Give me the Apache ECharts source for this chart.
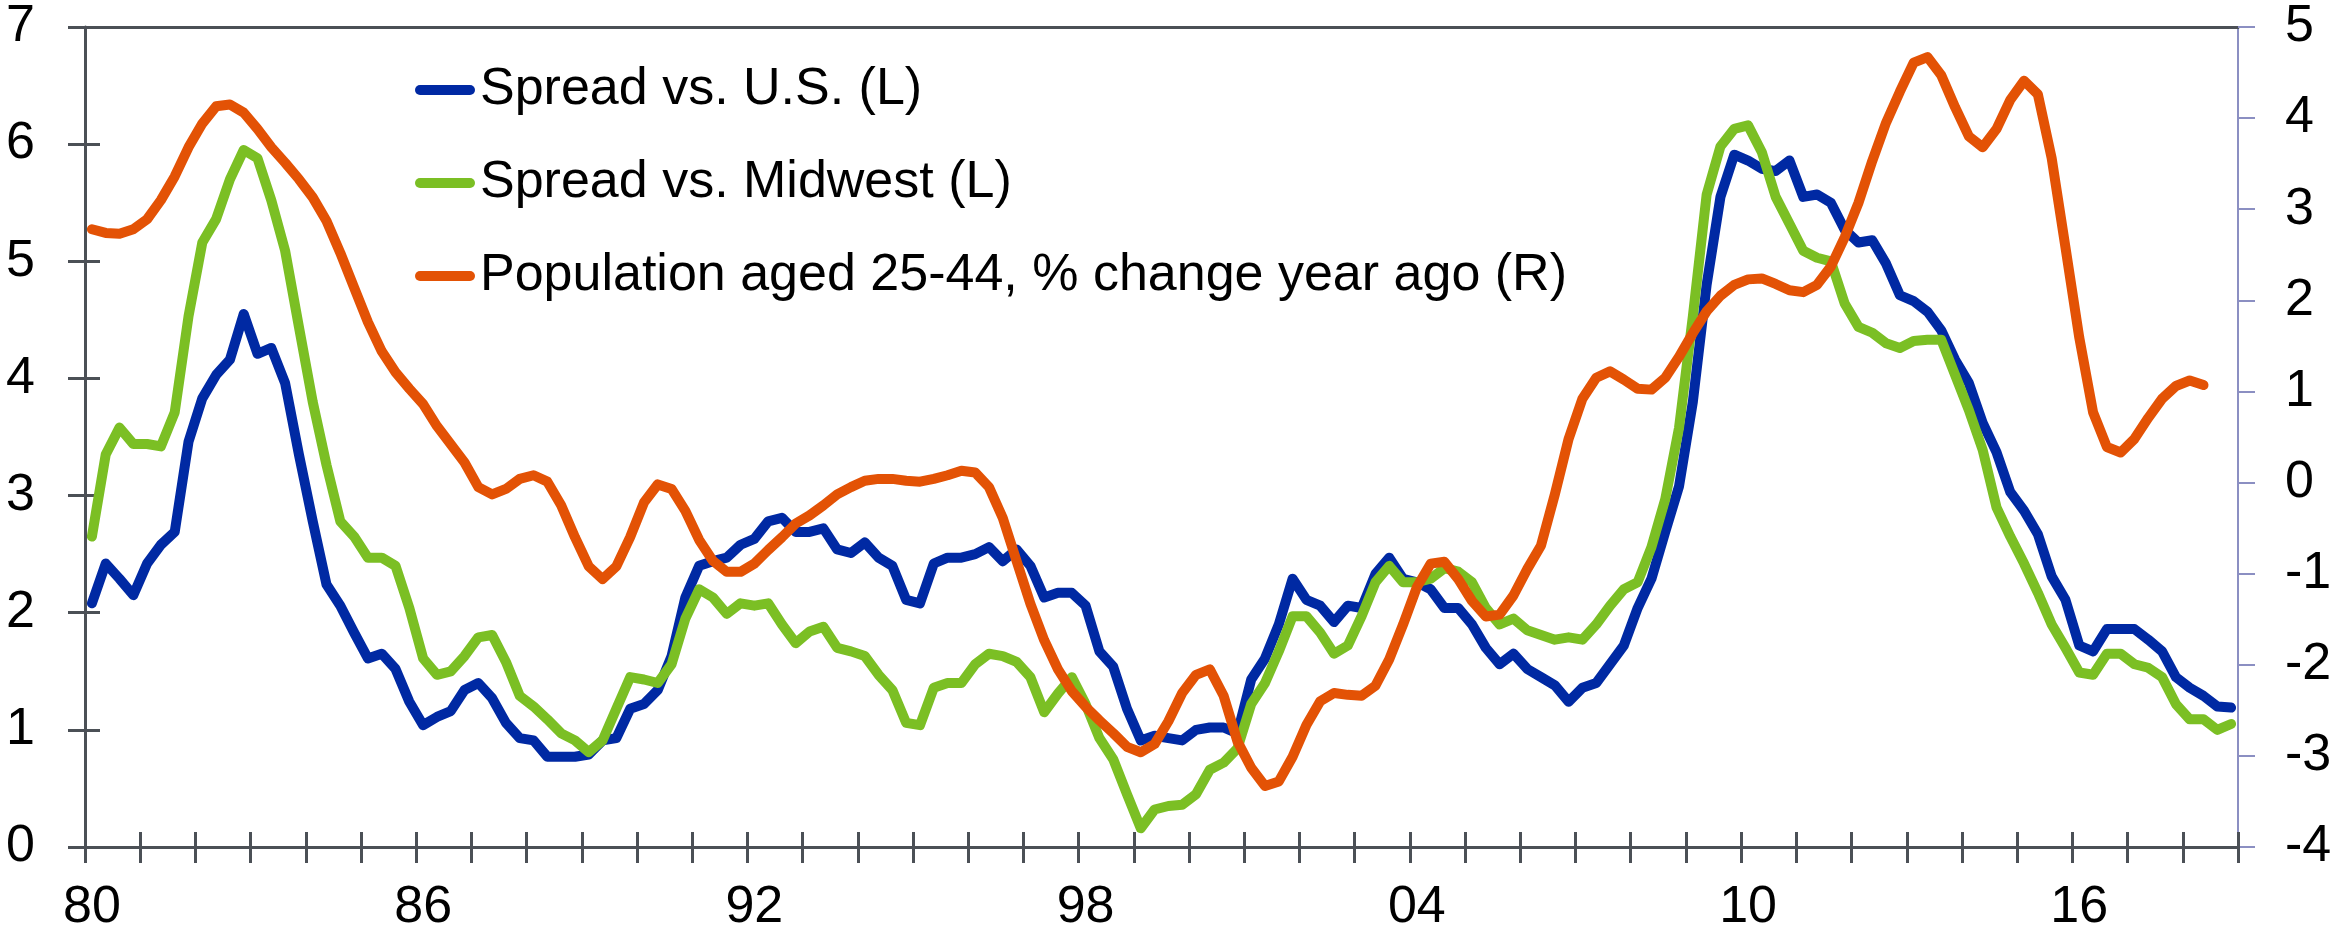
<!DOCTYPE html>
<html>
<head>
<meta charset="utf-8">
<script src="https://cdn.jsdelivr.net/npm/echarts@6.0.0/dist/echarts.min.js"></script>
<style>
  html, body { margin: 0; padding: 0; background: #fff; }
  #chart { width: 2336px; height: 937px; }
</style>
</head>
<body>
<div id="chart"></div>
<script>
// quarterly categories, 1980Q1 .. 2018Q4
var startYear = 1980;
var endYear = 2018;
var quarters = [];
for (var y = startYear; y <= endYear; y++) {
  for (var q = 1; q <= 4; q++) quarters.push(y + 'Q' + q);
}

var seriesNames = [
  'Spread vs. U.S. (L)',
  'Spread vs. Midwest (L)',
  'Population aged 25-44, % change year ago (R)'
];

// Spread vs. U.S., left axis
var spreadUS = [
  2.08, 2.42, 2.29, 2.15, 2.42, 2.58, 2.69, 3.46, 3.83, 4.03, 4.16, 4.55, 4.21, 4.26, 3.96, 3.35,
  2.78, 2.24, 2.06, 1.83, 1.61, 1.65, 1.52, 1.24, 1.04, 1.11, 1.16, 1.34, 1.40, 1.27, 1.06, 0.93,
  0.91, 0.77, 0.77, 0.77, 0.79, 0.91, 0.93, 1.18, 1.22, 1.34, 1.63, 2.13, 2.40, 2.44, 2.47, 2.58,
  2.63, 2.78, 2.81, 2.69, 2.69, 2.72, 2.54, 2.51, 2.60, 2.47, 2.40, 2.11, 2.08, 2.42, 2.47, 2.47,
  2.50, 2.56, 2.44, 2.54, 2.40, 2.13, 2.17, 2.17, 2.06, 1.67, 1.54, 1.18, 0.91, 0.95, 0.93, 0.91,
  1.00, 1.02, 1.02, 0.97, 1.43, 1.61, 1.90, 2.29, 2.11, 2.06, 1.92, 2.06, 2.04, 2.33, 2.47, 2.29,
  2.26, 2.20, 2.04, 2.04, 1.90, 1.70, 1.56, 1.65, 1.52, 1.45, 1.38, 1.24, 1.36, 1.40, 1.56, 1.72,
  2.04, 2.29, 2.69, 3.08, 3.80, 4.80, 5.55, 5.91, 5.86, 5.79, 5.77, 5.86, 5.55, 5.57, 5.50, 5.27,
  5.16, 5.18, 4.98, 4.71, 4.66, 4.57, 4.41, 4.16, 3.96, 3.62, 3.37, 3.03, 2.87, 2.67, 2.31, 2.11,
  1.72, 1.67, 1.86, 1.86, 1.86, 1.77, 1.67, 1.45, 1.36, 1.29, 1.20, 1.19
];

// Spread vs. Midwest, left axis
var spreadMidwest = [
  2.65, 3.35, 3.58, 3.44, 3.44, 3.42, 3.71, 4.53, 5.16, 5.36, 5.70, 5.95, 5.88, 5.52, 5.09, 4.44,
  3.80, 3.26, 2.78, 2.65, 2.47, 2.47, 2.40, 2.04, 1.61, 1.47, 1.50, 1.63, 1.79, 1.81, 1.58, 1.29,
  1.20, 1.09, 0.97, 0.91, 0.81, 0.91, 1.18, 1.45, 1.43, 1.40, 1.56, 1.95, 2.20, 2.13, 1.99, 2.08,
  2.06, 2.08, 1.90, 1.74, 1.84, 1.88, 1.70, 1.67, 1.63, 1.47, 1.34, 1.06, 1.04, 1.36, 1.40, 1.40,
  1.56, 1.65, 1.63, 1.58, 1.45, 1.15, 1.31, 1.45, 1.22, 0.93, 0.75, 0.45, 0.16, 0.32, 0.35, 0.36,
  0.45, 0.66, 0.72, 0.84, 1.22, 1.40, 1.67, 1.97, 1.97, 1.83, 1.65, 1.72, 1.97, 2.26, 2.40, 2.26,
  2.26, 2.29, 2.38, 2.35, 2.26, 2.04, 1.90, 1.95, 1.85, 1.81, 1.77, 1.79, 1.77, 1.90, 2.06, 2.20,
  2.26, 2.56, 2.97, 3.58, 4.53, 5.57, 5.98, 6.13, 6.16, 5.93, 5.55, 5.32, 5.09, 5.03, 5.00, 4.64,
  4.44, 4.39, 4.30, 4.26, 4.32, 4.33, 4.33, 4.03, 3.73, 3.39, 2.90, 2.65, 2.42, 2.17, 1.90, 1.70,
  1.49, 1.47, 1.65, 1.65, 1.56, 1.53, 1.45, 1.22, 1.09, 1.09, 1.00, 1.05
];

// Population aged 25-44, % change year ago, right axis
var population = [
  2.78, 2.74, 2.73, 2.78, 2.89, 3.10, 3.36, 3.68, 3.94, 4.13, 4.15, 4.06, 3.88, 3.68, 3.51, 3.33,
  3.13, 2.87, 2.52, 2.14, 1.76, 1.44, 1.21, 1.03, 0.86, 0.62, 0.42, 0.22, -0.05, -0.13, -0.07, 0.04,
  0.08, 0.01, -0.25, -0.60, -0.92, -1.06, -0.92, -0.60, -0.22, -0.02, -0.07, -0.31, -0.63, -0.86, -0.98, -0.98,
  -0.89, -0.74, -0.60, -0.45, -0.36, -0.25, -0.13, -0.05, 0.02, 0.04, 0.04, 0.02, 0.01, 0.04, 0.08, 0.13,
  0.11, -0.05, -0.39, -0.86, -1.33, -1.73, -2.05, -2.29, -2.46, -2.61, -2.75, -2.90, -2.96, -2.87, -2.62, -2.31,
  -2.11, -2.05, -2.34, -2.84, -3.13, -3.33, -3.28, -3.01, -2.66, -2.40, -2.31, -2.33, -2.34, -2.23, -1.94, -1.56,
  -1.15, -0.89, -0.87, -1.06, -1.30, -1.47, -1.45, -1.24, -0.95, -0.69, -0.13, 0.48, 0.92, 1.15, 1.22, 1.13,
  1.03, 1.02, 1.15, 1.38, 1.64, 1.88, 2.05, 2.17, 2.23, 2.24, 2.18, 2.11, 2.09, 2.17, 2.37, 2.69,
  3.07, 3.53, 3.95, 4.29, 4.61, 4.67, 4.47, 4.12, 3.80, 3.68, 3.88, 4.20, 4.41, 4.26, 3.56, 2.58,
  1.59, 0.77, 0.39, 0.33, 0.48, 0.71, 0.92, 1.06, 1.12, 1.07, null, null
];

var fontFamily = "'Liberation Sans', Arial, sans-serif";
var axisGray = '#4b5056';
var rightAxisColor = '#8b8fc2';
var colors = ['#0029a3', '#7bbf24', '#e35205'];

var chart = echarts.init(document.getElementById('chart'));

var labelStyle = { fontSize: 52, color: '#000', fontFamily: fontFamily };

// thick line with round ends for the legend
var legendIcon = 'path://M5,0H55A5,5,0,0,1,55,10H5A5,5,0,0,1,5,0Z';

var option = {
  animation: false,
  backgroundColor: '#fff',
  grid: { left: 85, right: 98, top: 27, bottom: 90, containLabel: false, outerBoundsMode: 'none' },
  legend: {
    orient: 'vertical',
    left: 410,
    top: 55,
    icon: legendIcon,
    itemWidth: 60,
    itemHeight: 10,
    itemGap: 33,
    selectedMode: false,
    textStyle: { fontSize: 52, color: '#000', fontFamily: fontFamily, lineHeight: 60 },
    data: seriesNames
  },
  xAxis: [
    {
      type: 'category',
      data: quarters,
      position: 'bottom',
      boundaryGap: true,
      axisLine: { onZero: false, lineStyle: { color: axisGray, width: 3 } },
      axisTick: { show: true, interval: 3, length: 16, lineStyle: { color: axisGray, width: 3 } },
      axisLabel: Object.assign({
        interval: 23,
        margin: 35,
        formatter: function (v) { return v.slice(2, 4); }
      }, labelStyle),
      splitLine: { show: false }
    },
    {
      // inner half of the crossing ticks
      type: 'category',
      data: quarters,
      position: 'bottom',
      boundaryGap: true,
      axisLine: { show: false, onZero: false },
      axisTick: { show: true, inside: true, interval: 3, length: 15, lineStyle: { color: axisGray, width: 3 } },
      axisLabel: { show: false },
      splitLine: { show: false }
    },
    {
      // top border
      type: 'category',
      data: quarters,
      position: 'top',
      axisLine: { show: true, onZero: false, lineStyle: { color: axisGray, width: 3 } },
      axisTick: { show: false },
      axisLabel: { show: false },
      splitLine: { show: false }
    }
  ],
  yAxis: [
    {
      type: 'value',
      position: 'left',
      min: 0,
      max: 7,
      interval: 1,
      axisLine: { show: true, lineStyle: { color: axisGray, width: 3 } },
      axisTick: { show: true, length: 17, lineStyle: { color: axisGray, width: 3 } },
      axisLabel: Object.assign({ margin: 50 }, labelStyle),
      splitLine: { show: false }
    },
    {
      type: 'value',
      position: 'right',
      min: -4,
      max: 5,
      interval: 1,
      axisLine: { show: true, lineStyle: { color: rightAxisColor, width: 2 } },
      axisTick: { show: true, length: 17, lineStyle: { color: rightAxisColor, width: 2 } },
      axisLabel: Object.assign({ margin: 47 }, labelStyle),
      splitLine: { show: false }
    },
    {
      // inner half of the crossing ticks on the left
      type: 'value',
      position: 'left',
      min: 0,
      max: 7,
      interval: 1,
      axisLine: { show: false },
      axisTick: { show: true, inside: true, length: 15, lineStyle: { color: axisGray, width: 3 } },
      axisLabel: { show: false },
      splitLine: { show: false }
    }
  ],
  series: [
    {
      name: seriesNames[0],
      type: 'line',
      xAxisIndex: 0,
      yAxisIndex: 0,
      data: spreadUS,
      symbol: 'none',
      color: colors[0],
      lineStyle: { width: 10, color: colors[0], cap: 'round', join: 'round' }
    },
    {
      name: seriesNames[1],
      type: 'line',
      xAxisIndex: 0,
      yAxisIndex: 0,
      data: spreadMidwest,
      symbol: 'none',
      color: colors[1],
      lineStyle: { width: 10, color: colors[1], cap: 'round', join: 'round' }
    },
    {
      name: seriesNames[2],
      type: 'line',
      xAxisIndex: 0,
      yAxisIndex: 1,
      data: population,
      symbol: 'none',
      color: colors[2],
      lineStyle: { width: 10, color: colors[2], cap: 'round', join: 'round' }
    }
  ]
};

chart.setOption(option);
</script>
</body>
</html>
